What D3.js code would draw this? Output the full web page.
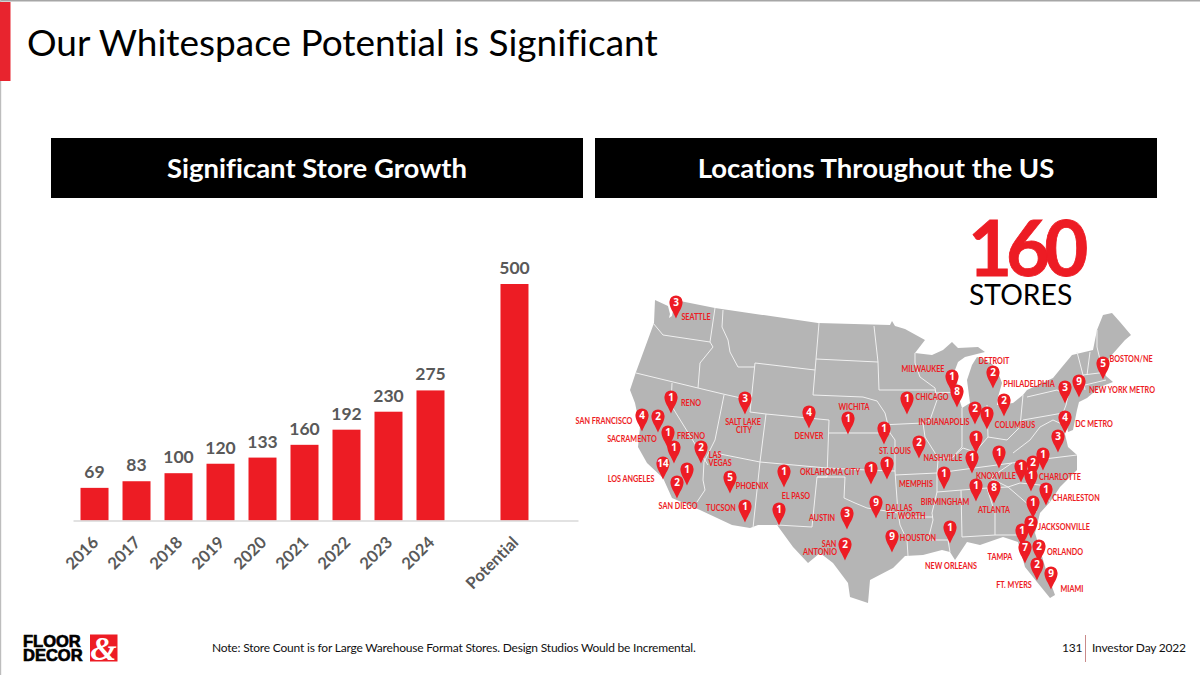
<!DOCTYPE html>
<html><head><meta charset="utf-8">
<script src="https://cdnjs.cloudflare.com/ajax/libs/d3/7.8.5/d3.min.js"></script>
<style>html,body{margin:0;padding:0;background:#fff}svg{display:block}text{font-family:Lato,sans-serif;font-variant-ligatures:none}</style>
</head><body><svg id="c" width="1200" height="675"></svg>
<script>
// ---- bar chart data
const years = ["2016","2017","2018","2019","2020","2021","2022","2023","2024"," ","Potential","  "];
const storeCounts = [69,83,100,120,133,160,192,230,275,null,500,null];

// ---- map data, in map-grid units
const nationOutline = [[655,300],[668,306],[670,314],[669,318],[672,316],[675,300],[715,308],[818,323],[890,325],[892,321],[895,326],[905,329],[925,340],[915,353],[932,355],[943,350],[952,342],[958,348],[978,347],[985,352],[965,357],[958,362],[955,370],[957,380],[958,395],[962,408],[970,403],[967,380],[972,365],[977,357],[980,358],[992,364],[997,370],[1002,383],[998,397],[997,405],[1013,403],[1023,395],[1027,390],[1053,378],[1062,367],[1072,355],[1093,350],[1097,330],[1103,315],[1112,313],[1120,322],[1131,335],[1125,340],[1110,357],[1103,368],[1106,376],[1113,382],[1100,387],[1087,398],[1079,402],[1077,410],[1073,430],[1068,432],[1066,420],[1064,430],[1068,447],[1077,455],[1077,470],[1060,487],[1050,502],[1040,513],[1035,533],[1047,573],[1055,595],[1050,598],[1037,582],[1025,567],[1018,542],[1003,537],[980,545],[967,542],[955,560],[950,552],[942,550],[923,555],[905,556],[893,568],[870,580],[868,603],[850,597],[848,583],[833,563],[820,553],[808,563],[793,547],[777,525],[758,525],[750,528],[732,525],[700,510],[672,498],[663,478],[647,463],[638,447],[640,427],[635,403],[630,390],[636,372],[643,353],[654,323]];
const stateLines = [
 [[653,323],[663,335],[710,342]],[[715,308],[710,342],[713,347],[700,363],[698,388]],
 [[636,373],[698,388],[723,394],[750,400]],[[723,310],[722,327],[728,340],[730,352],[738,367],[755,367]],
 [[755,363],[815,370]],[[755,363],[750,412],[766,414],[829,420]],[[819,323],[816,359],[813,395]],
 [[724,395],[715,440],[704,462],[703,480],[705,490],[697,502]],[[715,453],[760,462],[827,468],[867,470],[895,471]],
 [[766,414],[760,462],[753,528]],[[672,383],[671,405],[708,465]],[[816,359],[878,362]],
 [[874,326],[878,362],[879,390],[935,390]],[[813,395],[863,397],[877,401],[885,413],[890,433],[895,440],[895,471],[898,513],[900,525],[907,540],[908,556]],
 [[829,420],[827,477],[817,477],[812,527],[777,525]],[[829,433],[890,433]],[[817,477],[845,477],[844,498],[855,503],[867,508],[880,510],[898,513]],
 [[900,517],[933,517]],[[915,353],[915,363],[920,377],[935,388],[937,400],[930,420],[923,423],[925,437],[935,453],[938,460],[937,473],[937,492],[932,513],[933,520],[928,540],[948,540],[950,552]],
 [[880,425],[923,423]],[[935,393],[958,392]],[[962,408],[962,447],[952,458],[938,458]],[[952,458],[963,448],[975,452],[988,437],[1007,440],[1020,427],[1023,395]],
 [[987,405],[988,437]],[[895,475],[937,473],[1012,463],[1077,455]],[[937,492],[987,488],[1008,487],[990,478],[1012,463]],
 [[961,490],[962,537],[995,535],[1018,535]],[[987,488],[995,513],[995,535]],[[1008,487],[1037,512]],[[1008,487],[1020,483],[1040,485],[1050,502]],
 [[1020,427],[1023,420],[1063,413]],[[1013,453],[1030,440],[1040,427],[1053,420],[1064,425]],[[1027,397],[1057,390],[1068,396],[1066,405],[1063,413]],
 [[1077,352],[1083,375],[1085,390]],[[1090,352],[1087,375]],[[1083,375],[1107,372]],[[1085,385],[1106,380]],[[1097,330],[1097,347],[1102,368]]
];
const pinSites = [[676,302],[671,397],[642,415],[658,416],[668,432],[674,447],[701,447],[663,463],[687,469],[677,482],[745,398],[809,412],[848,418],[884,428],[730,477],[784,471],[779,509],[745,506],[847,513],[845,544],[876,502],[892,536],[871,468],[887,463],[952,376],[957,391],[907,398],[993,372],[1004,400],[975,408],[987,413],[1065,387],[1079,381],[1103,363],[1065,417],[1058,436],[976,437],[999,452],[972,457],[919,442],[944,473],[1021,466],[1033,462],[1043,454],[976,485],[994,487],[1031,475],[1046,489],[1033,502],[1031,522],[1022,530],[1025,547],[1039,546],[1037,564],[1051,573],[950,527]];
const pinStores = [3,1,4,2,1,1,2,14,1,2,3,4,1,1,5,1,1,1,3,2,9,9,1,1,1,8,1,2,2,2,1,3,9,5,4,3,1,1,1,2,1,1,2,1,1,8,1,1,1,2,1,7,2,2,9,1];
const cityNames = ["SEATTLE","RENO","SAN FRANCISCO","SACRAMENTO","FRESNO","LAS","VEGAS","LOS ANGELES","SAN DIEGO","PHOENIX","TUCSON","EL PASO","AUSTIN","SAN","ANTONIO","SALT LAKE","CITY","DENVER","WICHITA","OKLAHOMA CITY","ST. LOUIS","NASHVILLE","INDIANAPOLIS","COLUMBUS","MILWAUKEE","CHICAGO","DETROIT","PHILADELPHIA","NEW YORK METRO","BOSTON/NE","DC METRO","KNOXVILLE","CHARLOTTE","CHARLESTON","MEMPHIS","BIRMINGHAM","ATLANTA","DALLAS","FT. WORTH","HOUSTON","NEW ORLEANS","TAMPA","JACKSONVILLE","ORLANDO","FT. MYERS","MIAMI"];
const citySites = [[696,317],[691,403],[604,421],[632,439],[691,436],[715,455],[720,463],[631,479],[678,506],[752,486],[721,508],[796,496],[822,518],[829,544],[820,552],[743,422],[744,430],[809,436],[854,407],[830,472],[895,451],[943,458],[944,422],[1015,425],[923,369],[932,397],[994,361],[1029,384],[1122,390],[1131,359],[1094,424],[996,476],[1060,477],[1076,498],[916,484],[945,502],[994,510],[899,508],[906,516],[918,538],[951,566],[1000,557],[1064,527],[1065,552],[1014,585],[1072,589]];

const RED="#ed1c24", GREY="#595959";
const svg=d3.select("#c");
svg.append("rect").attr("width",1200).attr("height",675).attr("fill","#fff");

// frame
svg.append("rect").attr("x",0).attr("y",0).attr("width",1200).attr("height",1.5).attr("fill","#a6a6a6");
svg.append("rect").attr("x",0).attr("y",0).attr("width",1.2).attr("height",675).attr("fill","#bdbdbd");
svg.append("rect").attr("x",0).attr("y",2).attr("width",10.5).attr("height",79).attr("fill","#e8242e");

// title
svg.append("text").attr("x",27).attr("y",56).attr("font-size",37).attr("fill","#000").text("Our Whitespace Potential is Significant");

// headers
const headers=[{t:"Significant Store Growth",x:51,w:532},{t:"Locations Throughout the US",x:595,w:562}];
headers.forEach(h=>{
 svg.append("rect").attr("x",h.x).attr("y",138).attr("width",h.w).attr("height",60).attr("fill","#000");
 svg.append("text").attr("x",h.x+h.w/2).attr("y",178).attr("text-anchor","middle").attr("font-size",27.5).attr("font-weight",700).attr("fill","#fff").text(h.t);
});

// bars
const x=d3.scaleBand().domain(years).range([73,578]).paddingInner(1/3).paddingOuter(0.179);
const y=d3.scaleLinear().domain([0,500]).range([520.5,284]);
const data=years.map((k,i)=>({k,v:storeCounts[i]})).filter(d=>d.v!=null);
svg.append("g").selectAll("rect").data(data).join("rect")
 .attr("x",d=>x(d.k)).attr("y",d=>y(d.v)).attr("width",x.bandwidth()).attr("height",d=>y(0)-y(d.v)).attr("fill",RED);
svg.append("g").selectAll("text").data(data).join("text")
 .attr("x",d=>x(d.k)+x.bandwidth()/2).attr("y",d=>y(d.v)-10).attr("text-anchor","middle")
 .attr("font-size",17.5).attr("font-weight",700).attr("fill",GREY).text(d=>d.v);
const ax=svg.append("g").attr("transform",`translate(0,${y(0)})`).call(d3.axisBottom(x).tickSize(0).tickPadding(0));
ax.select(".domain").attr("stroke","#d9d9d9").attr("stroke-width",1.5);
ax.selectAll("text").attr("font-size",16.5).attr("font-weight",700).attr("fill",GREY).attr("font-family","Lato")
 .attr("text-anchor","end").attr("dx",0).attr("dy",0)
 .attr("transform","translate(5,23) rotate(-45)");

// map
const mx=d3.scaleLinear().domain([600,1160]).range([600,1160]);
const my=d3.scaleLinear().domain([290,610]).range([290,610]);
const line=d3.line().x(d=>mx(d[0])).y(d=>my(d[1]));
svg.append("path").attr("d",line(nationOutline)+"Z").attr("fill","#b5b5b5");
svg.append("g").selectAll("path").data(stateLines).join("path").attr("d",line)
 .attr("fill","none").attr("stroke","#f0f0f0").attr("stroke-width",1).attr("stroke-linejoin","round");

// pin labels
svg.append("g").selectAll("text").data(cityNames).join("text")
 .attr("transform",(d,i)=>`translate(${mx(citySites[i][0])},${my(citySites[i][1])+3}) scale(.84,1)`)
 .attr("text-anchor","middle").attr("font-size",8.6).attr("font-weight",700)
 .attr("fill",RED).text(d=>d);

// pins
function pinPath(){const p=d3.path();const r=6.6,t=16.5;
 p.moveTo(0,t);p.bezierCurveTo(-2.5,10,-r,5.5,-r,0);p.arc(0,0,r,Math.PI,0);p.bezierCurveTo(r,5.5,2.5,10,0,t);p.closePath();return p.toString();}
const pins=svg.append("g").selectAll("g").data(pinStores).join("g")
 .attr("transform",(d,i)=>`translate(${mx(pinSites[i][0])},${my(pinSites[i][1])})`);
pins.append("path").attr("d",pinPath()).attr("fill",RED);
pins.append("text").attr("text-anchor","middle").attr("y",3.6).attr("font-size",10).attr("font-weight",700)
 .style("font-family","'Open Sans'").attr("fill","#fff").text(d=>d);

// 160 stores
svg.append("text").attr("x",968).attr("y",276).attr("font-size",76).attr("font-weight",700).attr("fill",RED).attr("stroke",RED).attr("stroke-width",.8).attr("letter-spacing",-6).text("160");
svg.append("text").attr("x",969).attr("y",305).attr("font-size",28.3).attr("fill","#000").text("STORES");

// logo
const logo=svg.append("g");
[["FLOOR",647],["DECOR",660.5]].forEach(a=>logo.append("text").attr("x",23).attr("y",a[1]).attr("font-size",16.5).attr("font-weight",700)
 .style("font-family","'Liberation Sans'").attr("fill","#000").attr("stroke","#000").attr("stroke-width",.7).text(a[0]));
logo.append("rect").attr("x",90).attr("y",634.5).attr("width",27.5).attr("height",27).attr("fill",RED);
logo.append("text").attr("x",103.5).attr("y",660).attr("text-anchor","middle").attr("font-size",34).attr("font-weight",700).attr("font-style","italic")
 .style("font-family","'Liberation Serif'").attr("fill","#fff").text("&");

// footer
[["Note: Store Count is for Large Warehouse Format Stores. Design Studios Would be Incremental.",212],["131",1062],["Investor Day 2022",1092]]
 .forEach(a=>svg.append("text").attr("x",a[1]).attr("y",652).attr("font-size",12).attr("letter-spacing",-0.2).attr("fill","#111").text(a[0]));
svg.append("line").attr("x1",1085.5).attr("x2",1085.5).attr("y1",635).attr("y2",662).attr("stroke","#c98a8a");
</script></body></html>
